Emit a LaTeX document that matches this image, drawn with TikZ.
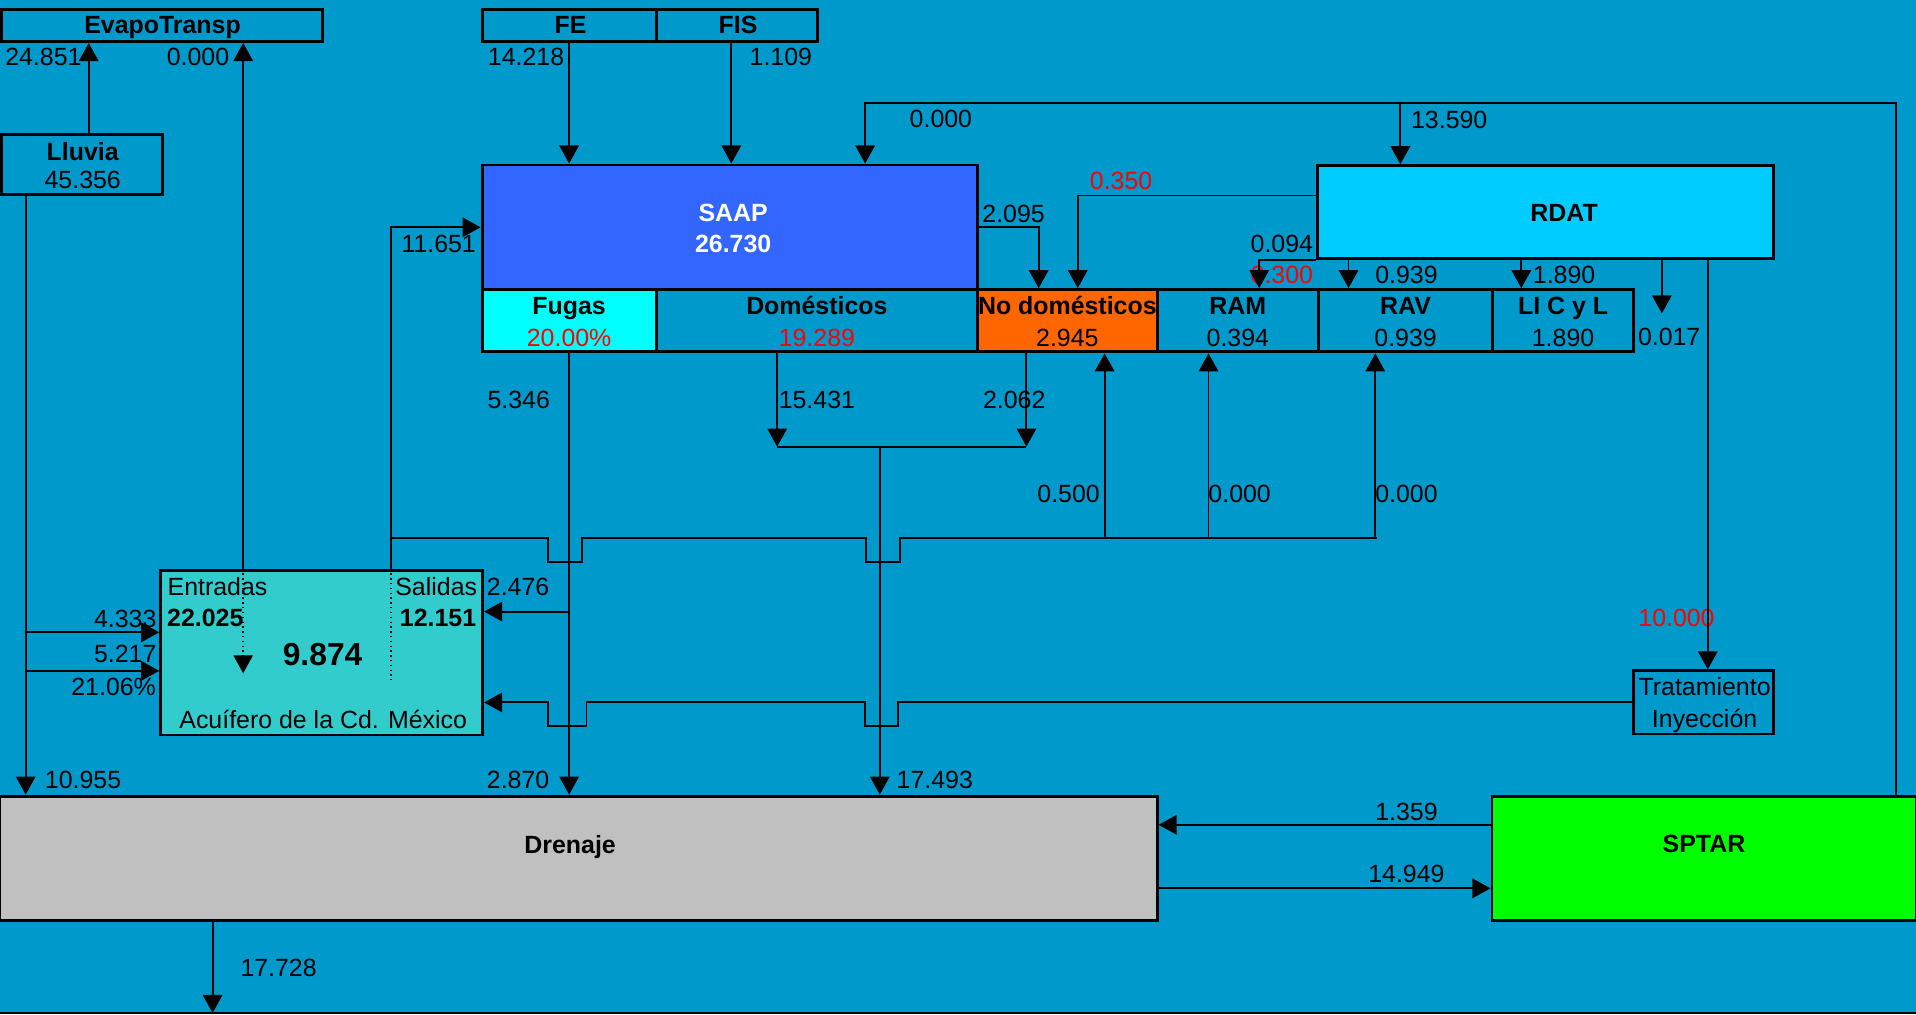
\documentclass[tikz,border=0pt]{standalone}
\usepackage{fontspec}
\setmainfont{Liberation Sans}
\usepackage{tikz}
\usetikzlibrary{arrows.meta, fit}
\usepackage{xcolor}
\definecolor{BgBlue}{HTML}{0099CC}
\definecolor{SaapBlue}{HTML}{3366FF}
\definecolor{FugaCyan}{HTML}{00FFFF}
\definecolor{NoDomOrange}{HTML}{FF6600}
\definecolor{RdatCyan}{HTML}{00CCFF}
\definecolor{AcuiTeal}{HTML}{33CCCC}
\definecolor{DrenGray}{HTML}{C0C0C0}
\definecolor{SptarGreen}{HTML}{00FF00}
\definecolor{FlowRed}{HTML}{FF0000}
\newcommand{\flowfont}{\fontsize{14.5}{18.4}\selectfont}

\begin{document}
\begin{tikzpicture}[x=0.025cm, y=-0.025cm,
  box/.style={draw=black, line width=1.7pt, inner sep=0pt},
  lab/.style={font=\flowfont, inner sep=0pt, text height=10.4pt, text depth=0pt},
  boldlab/.style={lab, font=\flowfont\bfseries},
  redlab/.style={lab, text=FlowRed},
  tip/.style={-{Triangle[length=10.5pt,width=11.3pt]}},
  pipe/.style={line width=1.1pt},
  flow/.style={pipe, tip},
  hint/.style={line width=0.8pt, dotted}]

  \useasboundingbox (0,0) rectangle (1568,830);
  \fill[BgBlue] (0,0) rectangle (1568,830);
  \draw[pipe] (0,829) -- (1568,829);

  % cajas
  \node[box, fit={(1,7.4) (264,34)}] (evapo) {};
  \node[box, fit={(394.5,7.4) (537,34)}] (fe) {};
  \node[box, fit={(537,7.4) (668.7,34)}] (fis) {};
  \node[box, fit={(1.4,110) (133,159)}] (lluvia) {};
  \node[box, fill=SaapBlue, fit={(394.5,135) (800,237)}] (saap) {};
  \node[box, fill=RdatCyan, fit={(1078,135.6) (1451,211.5)}] (rdat) {};
  \foreach \cell/\xa/\xb/\tint/\title/\val in {
      fugas/394.5/537/FugaCyan/Fugas/{\textcolor{FlowRed}{20.00\%}},
      domest/537/800/BgBlue/Domésticos/{\textcolor{FlowRed}{19.289}},
      nodom/800/947/NoDomOrange/No domésticos/2.945,
      ram/947/1079/BgBlue/RAM/0.394,
      rav/1079/1221.6/BgBlue/RAV/0.939,
      lic/1221.6/1336.7/BgBlue/LI C y L/1.890
    }{
      \node[box, fill=\tint, fit={(\xa,237) (\xb,288)}] (\cell) {};
      \node[boldlab, yshift=0.31cm] (\cell-t) at (\cell.center) {\title};
      \node[lab, yshift=-0.34cm] (\cell-v) at (\cell.center) {\val};
    }
  \node[box, fill=AcuiTeal, fit={(131.5,466.5) (395,601.5)}] (acuifero) {};
  \node[box, fit={(1336.6,549) (1451,600.7)}] (trat) {};
  \node[box, fill=DrenGray, fit={(0,651.5) (947,753)}] (drenaje) {};
  \node[box, fill=SptarGreen, fit={(1221,652) (1568,753)}] (sptar) {};

  % titulos
  \foreach \nm/\px/\py/\txt in {
      evapoT/133/20.5/EvapoTransp, feT/467/20.5/FE, fisT/604/20.5/FIS,
      lluviaT/67.7/124/Lluvia, rdatT/1280/174/RDAT, drenajeT/466.6/691.5/Drenaje,
      sptarT/1394.5/690/SPTAR, acuEntV/168/505.5/22.025, acuSalV/358.5/505.5/12.151
    }{
      \node[boldlab] (\nm) at (\px,\py) {\txt};
    }
  \node[boldlab, text=white] (saapT) at (600,173.8) {SAAP};
  \node[boldlab, text=white] (saapV) at (600,199) {26.730};
  \node[lab, font=\fontsize{18.5}{20}\selectfont\bfseries, text height=13.2pt] (acuNeto) at (264,535) {9.874};

  % valores
  \foreach \nm/\px/\py/\txt in {
      lluviaV/67.7/147/45.356, tratT/1395/562/Tratamiento, tratV/1395/588/Inyección,
      lEvL/35.5/46/24.851, lEvR/162/46/0.000, lFE/430.5/46/14.218, lFIS/639/46/1.109,
      lTopL/770/97/0.000, lTopR/1186/97.5/13.590, lSaapIn/359/199/11.651,
      lSaapNd/829.5/174.6/2.095, lRam/1049/199/0.094, lRav/1151/225/0.939,
      lLic/1280/225/1.890, lOut/1366/275.5/0.017, lFug/424.5/327/5.346,
      lDom/668.5/327/15.431, lNd/830/327/2.062, lUpNd/874.5/404/0.500,
      lUpRam/1014.5/404/0.000, lUpRav/1151/404/0.000, lAcuR/424/480/2.476,
      lAcuA/102.5/506/4.333, lAcuB/102.5/535/5.217, lAcuP/93/562/21.06\%,
      lLluv/68/638/10.955, lFugD/424/638/2.870, lMix/765/638/17.493,
      lSpIn/1151/664.5/1.359, lSpOut/1151/715/14.949, lDrOut/228/792/17.728,
      lEnt/178/480/Entradas, lSal/357/480/Salidas,
      lAcuName/264.5/588.5/Acuífero de la Cd. México
    }{
      \node[lab] (\nm) at (\px,\py) {\txt};
    }
  \foreach \nm/\px/\py/\txt in {lRdNd/917.5/148/0.350, lRam2/1049/225/0.300, lTrat/1372/505/10.000}{
      \node[redlab] (\nm) at (\px,\py) {\txt};
    }

  % conexiones
  \coordinate (chLluvia) at (21,0);
  \coordinate (chEvap) at (72.6,0);
  \coordinate (chAcuEv) at (199,0);
  \coordinate (chAcuUp) at (320,0);
  \coordinate (chFIS) at (598.5,0);
  \coordinate (chTop) at (708,0);
  \coordinate (chTopR) at (1551.7,84);
  \coordinate (chRdat) at (1146,84);
  \coordinate (chNoDom) at (850,0);
  \coordinate (chRdNoDom) at (882,160);
  \coordinate (chRam) at (1030.5,0);
  \coordinate (chRav) at (1103.6,0);
  \coordinate (chLic) at (1245,0);
  \coordinate (chOut) at (1360,256.5);
  \coordinate (chTrat) at (1397.6,0);
  \coordinate (chDom) at (636,365.5);
  \coordinate (chNdDown) at (840,365.5);
  \coordinate (chMix) at (720,365.5);
  \coordinate (busL) at (320,440.6);
  \coordinate (busR) at (1127,440.6);
  \coordinate (upNoDom) at (904,440.6);
  \coordinate (upRam) at (989,440.6);
  \coordinate (upRav) at (1125.5,440.6);
  \coordinate (inA) at (21,517.5);
  \coordinate (inB) at (21,549);
  \coordinate (fugBr) at (466.6,500.5);
  \coordinate (dotEv) at (199,551);
  \coordinate (dotUp) at (320,556);
  \coordinate (spIn) at (0,675);
  \coordinate (spOut) at (0,727);
  \coordinate (chDrOut) at (174,829);

  \draw[flow] (lluvia.north -| chEvap) -- (chEvap |- evapo.south);
  \draw[flow] (acuifero.north -| chAcuEv) -- (chAcuEv |- evapo.south);
  \draw[hint, tip] (acuifero.north -| chAcuEv) -- (dotEv);
  \draw[hint] (acuifero.north -| chAcuUp) -- (dotUp);
  \draw[flow] (lluvia.south -| chLluvia) -- (chLluvia |- drenaje.north);
  \draw[flow] (inA) -- (inA -| acuifero.west);
  \draw[flow] (inB) -- (inB -| acuifero.west);
  \draw[flow] (fe.south) -- (fe.south |- saap.north);
  \draw[flow] (fis.south -| chFIS) -- (saap.north -| chFIS);
  \draw[flow] (sptar.north -| chTopR) -- (chTopR) -| (saap.north -| chTop);
  \draw[flow] (chRdat) -- (rdat.north -| chRdat);
  \draw[flow] (acuifero.north -| chAcuUp) |- (saap.west);
  \draw[flow] (saap.east) -| (nodom.north -| chNoDom);
  \draw[flow] (rdat.west |- chRdNoDom) -| (nodom.north -| chRdNoDom);
  \draw[flow] (rdat.south west) -| (ram.north -| chRam);
  \draw[flow] (rdat.south -| chRav) -- (rav.north -| chRav);
  \draw[flow] (rdat.south -| chLic) -- (lic.north -| chLic);
  \draw[flow] (rdat.south -| chOut) -- (chOut);
  \draw[flow] (rdat.south -| chTrat) -- (trat.north -| chTrat);
  \draw[flow] (fugas.south) -- (fugas.south |- drenaje.north);
  \draw[flow] (fugBr) -- (fugBr -| acuifero.east);
  \draw[flow] (domest.south -| chDom) -- (chDom);
  \draw[flow] (nodom.south -| chNdDown) -- (chNdDown);
  \draw[pipe] (chDom) -- (chNdDown);
  \draw[flow] (chMix) -- (chMix |- drenaje.north);
  \draw[pipe] (busL) -- (448.5,440.6) -- ++(0,19.4) -- ++(27.5,0) -- ++(0,-19.4)
    -- (709,440.6) -- ++(0,19.4) -- ++(27.5,0) -- ++(0,-19.4) -- (busR);
  \draw[flow] (upNoDom) -- (upNoDom |- nodom.south);
  \draw[flow] (upRam) -- (upRam |- ram.south);
  \draw[flow] (upRav) -- (upRav |- rav.south);
  \draw[flow] (trat.west) -- (735,574.85) -- ++(0,19) -- ++(-27,0) -- ++(0,-19)
    -- (480,574.85) -- ++(0,19) -- ++(-31.5,0) -- ++(0,-19) -- (acuifero.east |- trat.west);
  \draw[flow] (sptar.west |- spIn) -- (drenaje.east |- spIn);
  \draw[flow] (drenaje.east |- spOut) -- (sptar.west |- spOut);
  \draw[flow] (drenaje.south -| chDrOut) -- (chDrOut);
\end{tikzpicture}
\end{document}
